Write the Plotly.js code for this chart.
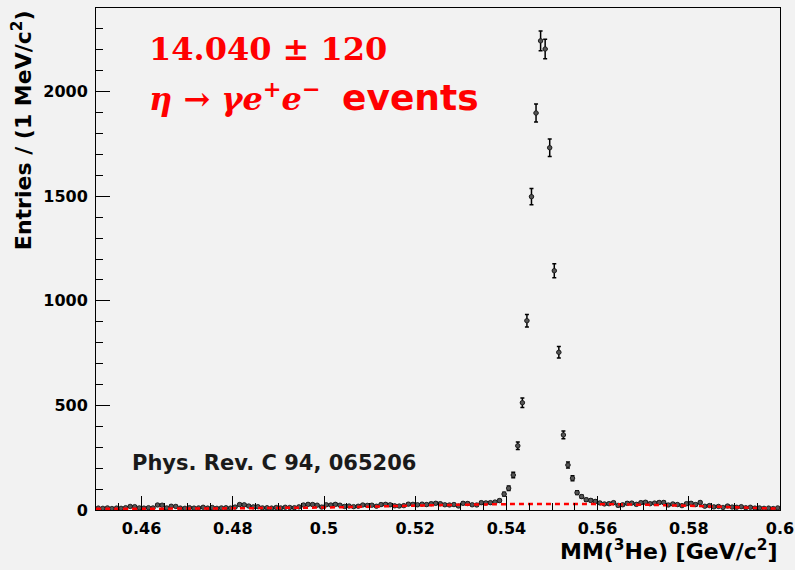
<!DOCTYPE html>
<html>
<head>
<meta charset="utf-8">
<script src="https://cdn.plot.ly/plotly-3.0.1.min.js"></script>
<style>
  html, body { margin: 0; padding: 0; background: #f2f2f2; }
  #plot { width: 795px; height: 570px; }
</style>
</head>
<body>
<div id="plot"></div>
<script>
// Missing-mass histogram MM(3He), 1 MeV bins from 0.45 to 0.60 GeV/c^2
const binLow = 0.45;
const binWidth = 0.001;
const counts = [
  9, 8, 10, 7, 9, 8, 11, 17, 16, 10,
  9, 11, 10, 24, 23, 10, 18, 17, 9, 8,
  11, 9, 10, 13, 9, 12, 8, 10, 11, 9,
  14, 26, 25, 19, 15, 16, 10, 11, 9, 12,
  10, 13, 12, 11, 15, 24, 27, 26, 23, 14,
  25, 24, 27, 23, 17, 19, 16, 18, 24, 22,
  23, 18, 26, 27, 25, 20, 19, 21, 28, 27,
  25, 28, 26, 30,
  32, 30, 25, 24, 26, 19, 32, 31, 25, 24, 35, 34, 35, 38, 45,
  76, 104, 167, 307, 513, 905, 1498, 1898, 2243, 2204, 1732, 1144, 754, 359, 215, 152, 83,
  64, 49, 46, 41, 34, 29, 30, 35, 22, 25,
  32, 33, 27, 35, 37, 30, 33, 36, 36, 24,
  29, 26, 21, 30, 32, 26, 36, 18, 21, 15,
  17, 12, 19, 14, 13, 16, 11, 13, 9, 10,
  8, 9, 7, 10
];

// Background shape under the peak (red dashed curve)
const bgMass = [0.45, 0.46, 0.47, 0.48, 0.49, 0.50, 0.51, 0.52, 0.53, 0.54, 0.55, 0.56, 0.57, 0.58, 0.59, 0.60];
const bgCounts = [6, 6, 7, 8, 10, 12, 16, 21, 25, 28, 29, 28, 25, 20, 13, 6];

// Axis ticks
const xTickVals = [0.46, 0.48, 0.50, 0.52, 0.54, 0.56, 0.58, 0.60];
const xTickText = ['0.46', '0.48', '0.5', '0.52', '0.54', '0.56', '0.58', '0.6'];
const yTickVals = [0, 500, 1000, 1500, 2000];
const yTickText = ['0', '500', '1000', '1500', '2000'];

const centers = counts.map((_, i) => binLow + (i + 0.5) * binWidth);
const statErr = counts.map(n => Math.sqrt(n));

const boldFont = { family: 'DejaVu Sans', weight: 'bold', color: '#000' };

const data = [
  {
    type: 'scatter',
    mode: 'markers',
    x: centers,
    y: counts,
    marker: { symbol: 'circle', size: 4.5, color: '#555', line: { color: '#111', width: 0.8 } },
    error_x: { type: 'constant', value: binWidth / 2, color: '#000', thickness: 2, width: 0 },
    error_y: { type: 'data', array: statErr, color: '#000', thickness: 1.5, width: 2 }
  },
  {
    type: 'scatter',
    mode: 'lines',
    x: bgMass,
    y: bgCounts,
    line: { color: '#ff0000', width: 2.5, dash: '5px,4px', shape: 'spline' },
    hoverinfo: 'skip'
  }
];

const layout = {
  width: 795,
  height: 570,
  margin: { l: 96, r: 15, t: 8, b: 60 },
  paper_bgcolor: '#f2f2f2',
  plot_bgcolor: '#f2f2f2',
  showlegend: false,
  xaxis: {
    range: [0.45, 0.6],
    tickvals: xTickVals,
    ticktext: xTickText,
    ticks: 'inside',
    ticklen: 14,
    tickwidth: 1,
    tickcolor: '#000',
    minor: { ticks: 'inside', dtick: 0.005, ticklen: 7, tickwidth: 1, tickcolor: '#000' },
    showline: true,
    linecolor: '#000',
    linewidth: 1,
    mirror: true,
    showgrid: false,
    zeroline: false,
    ticklabelstandoff: 4,
    tickfont: Object.assign({ size: 16 }, boldFont)
  },
  yaxis: {
    range: [0, 2400],
    tickvals: yTickVals,
    ticktext: yTickText,
    ticks: 'inside',
    ticklen: 14,
    tickwidth: 1,
    tickcolor: '#000',
    minor: { ticks: 'inside', dtick: 100, ticklen: 7, tickwidth: 1, tickcolor: '#000' },
    showline: true,
    linecolor: '#000',
    linewidth: 1,
    mirror: true,
    showgrid: false,
    zeroline: false,
    ticklabelstandoff: 4,
    tickfont: Object.assign({ size: 16 }, boldFont)
  },
  annotations: [
    {
      xref: 'paper', yref: 'paper', x: -0.108, y: 1.0,
      xanchor: 'center', yanchor: 'top', textangle: -90,
      text: 'Entries / (1 MeV/c<sup>2</sup>)',
      showarrow: false,
      font: Object.assign({ size: 22 }, boldFont)
    },
    {
      xref: 'paper', yref: 'paper', x: 1.0, y: -0.08,
      xanchor: 'right', yanchor: 'middle',
      text: 'MM(<sup>3</sup>He) [GeV/c<sup>2</sup>]',
      showarrow: false,
      font: Object.assign({ size: 22 }, boldFont)
    },
    {
      xref: 'paper', yref: 'paper', x: 0.0497, y: 0.093,
      xanchor: 'left', yanchor: 'middle',
      text: 'Phys. Rev. C 94, 065206',
      showarrow: false,
      font: { family: 'DejaVu Sans', weight: 'bold', size: 21, color: '#1a1a1a' }
    },
    {
      xref: 'paper', yref: 'paper', x: 0.0746, y: 0.918,
      xanchor: 'left', yanchor: 'middle',
      text: '14.040 ± 120',
      showarrow: false,
      font: { family: 'DejaVu Serif', weight: 'bold', size: 32, color: '#ff0000' }
    },
    {
      xref: 'paper', yref: 'paper', x: 0.0746, y: 0.822,
      xanchor: 'left', yanchor: 'middle',
      text: '<i>η</i> → <i>γe</i><sup>+</sup><i>e</i><sup>−</sup>',
      showarrow: false,
      font: { family: 'DejaVu Serif', weight: 'bold', size: 32, color: '#ff0000' }
    },
    {
      xref: 'paper', yref: 'paper', x: 0.3567, y: 0.822,
      xanchor: 'left', yanchor: 'middle',
      text: 'events',
      showarrow: false,
      font: { family: 'DejaVu Sans', weight: 'bold', size: 36, color: '#ff0000' }
    }
  ]
};

Plotly.newPlot('plot', data, layout, { staticPlot: true, displayModeBar: false });
</script>
</body>
</html>
